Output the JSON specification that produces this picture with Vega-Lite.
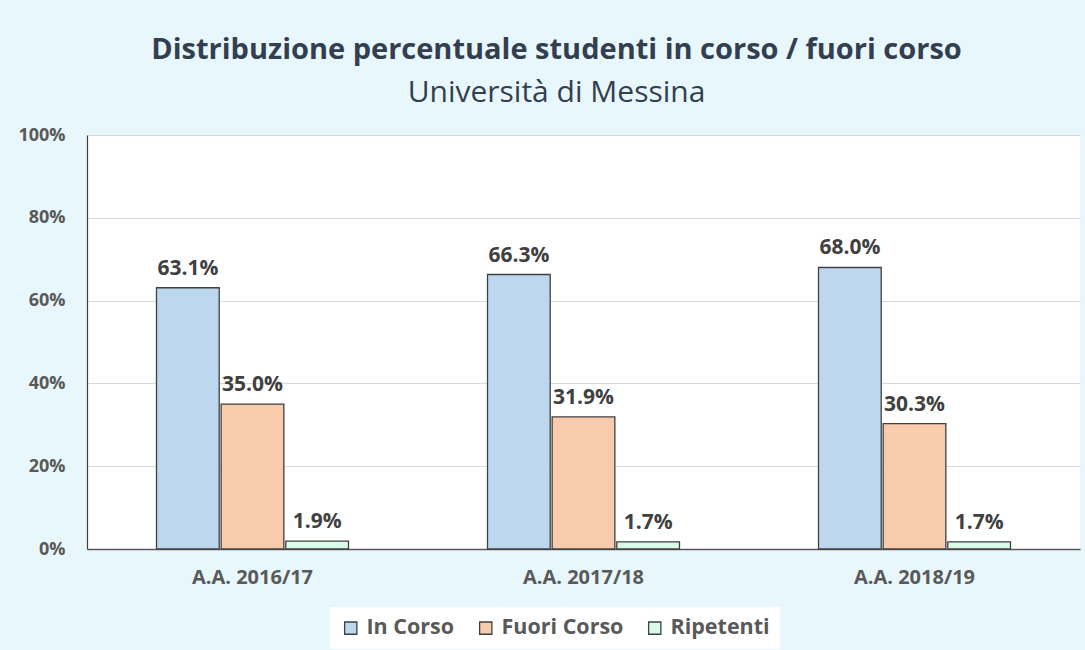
{
  "$schema": "https://vega.github.io/schema/vega-lite/v6.json",
  "width": 993,
  "height": 414,
  "autosize": {"type": "none"},
  "padding": {"left": 87, "top": 135, "right": 5, "bottom": 101},
  "background": "#E8F7FB",
  "view": {"fill": "white", "stroke": null},
  "title": {
    "text": "Distribuzione percentuale studenti in corso / fuori corso",
    "subtitle": "Università di Messina",
    "anchor": "middle",
    "frame": "group",
    "dx": -27,
    "offset": 18,
    "font": "Open Sans",
    "fontSize": 29,
    "fontWeight": "bold",
    "color": "#333F50",
    "subtitleFont": "Open Sans",
    "subtitleFontSize": 30,
    "subtitleColor": "#333F50",
    "subtitlePadding": 13
  },
  "data": {
    "values": [
      {"anno": "A.A. 2016/17", "tipo": "In Corso", "valore": 0.631},
      {"anno": "A.A. 2016/17", "tipo": "Fuori Corso", "valore": 0.350},
      {"anno": "A.A. 2016/17", "tipo": "Ripetenti", "valore": 0.019},
      {"anno": "A.A. 2017/18", "tipo": "In Corso", "valore": 0.663},
      {"anno": "A.A. 2017/18", "tipo": "Fuori Corso", "valore": 0.319},
      {"anno": "A.A. 2017/18", "tipo": "Ripetenti", "valore": 0.017},
      {"anno": "A.A. 2018/19", "tipo": "In Corso", "valore": 0.680},
      {"anno": "A.A. 2018/19", "tipo": "Fuori Corso", "valore": 0.303},
      {"anno": "A.A. 2018/19", "tipo": "Ripetenti", "valore": 0.017}
    ]
  },
  "encoding": {
    "x": {
      "field": "anno",
      "type": "nominal",
      "title": null,
      "scale": {"paddingInner": 0.42, "paddingOuter": 0.21},
      "axis": {
        "labelAngle": 0,
        "labelFont": "Open Sans",
        "labelFontSize": 20,
        "labelFontWeight": "bold",
        "labelColor": "#595959",
        "labelPadding": 18,
        "ticks": false,
        "domainColor": "#595959",
        "domainWidth": 1.5
      }
    },
    "xOffset": {
      "field": "tipo",
      "type": "nominal",
      "sort": ["In Corso", "Fuori Corso", "Ripetenti"],
      "scale": {"paddingInner": 0.03}
    },
    "y": {
      "field": "valore",
      "type": "quantitative",
      "title": null,
      "scale": {"domain": [0, 1]},
      "axis": {
        "format": ".0%",
        "values": [0, 0.2, 0.4, 0.6, 0.8, 1],
        "labelFont": "Open Sans",
        "labelFontSize": 18,
        "labelFontWeight": "bold",
        "labelColor": "#595959",
        "labelPadding": 22,
        "ticks": false,
        "domainColor": "#404040",
        "domainWidth": 1.2,
        "gridColor": "#D9D9D9",
        "gridWidth": 1.2
      }
    }
  },
  "layer": [
    {
      "mark": {"type": "bar", "stroke": "#404040", "strokeWidth": 1.3},
      "encoding": {
        "color": {
          "field": "tipo",
          "type": "nominal",
          "sort": ["In Corso", "Fuori Corso", "Ripetenti"],
          "scale": {
            "domain": ["In Corso", "Fuori Corso", "Ripetenti"],
            "range": ["#BDD7EE", "#F8CBAD", "#D9FBE8"]
          },
          "legend": {
            "title": null,
            "orient": "none",
            "legendX": 243,
            "legendY": 472,
            "direction": "horizontal",
            "fillColor": "white",
            "padding": 10,
            "symbolType": "square",
            "symbolSize": 150,
            "symbolStrokeColor": "#404040",
            "symbolStrokeWidth": 1.3,
            "labelFont": "Open Sans",
            "labelFontSize": 21.5,
            "labelFontWeight": "bold",
            "labelColor": "#595959",
            "columnPadding": 20,
            "labelOffset": 5
          }
        }
      }
    },
    {
      "mark": {
        "type": "text",
        "baseline": "bottom",
        "dy": -9,
        "font": "Open Sans",
        "fontSize": 21,
        "fontWeight": "bold",
        "color": "#404040"
      },
      "encoding": {
        "text": {"field": "valore", "type": "quantitative", "format": ".1%"}
      }
    }
  ]
}
